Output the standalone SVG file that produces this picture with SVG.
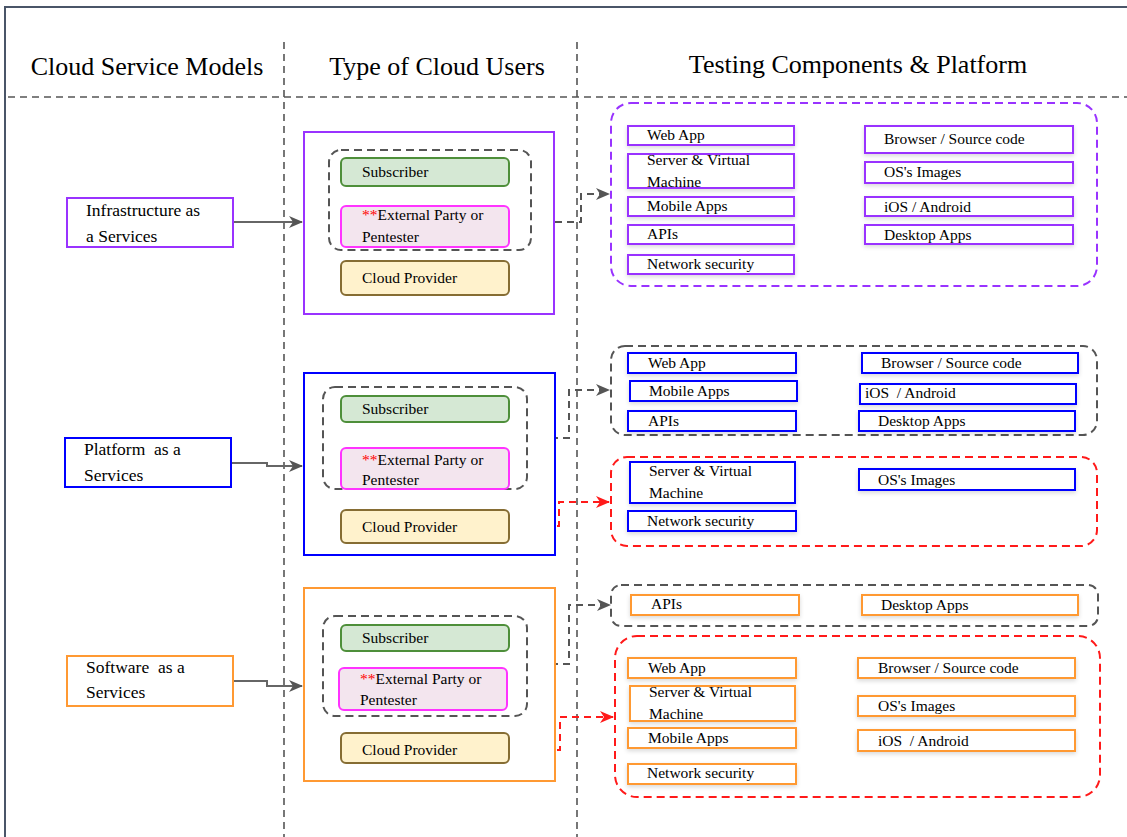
<svg xmlns="http://www.w3.org/2000/svg" width="1127" height="837" viewBox="0 0 1127 837" font-family="'Liberation Serif', 'Times New Roman', serif">
<style>
text{font-family:"Liberation Serif","Times New Roman",serif;fill:#000;white-space:pre}
.hd{font-size:26px;text-anchor:middle}
.lt{font-size:17.5px}
.t{font-size:15.5px}
.div{stroke:#555;stroke-width:1.6;stroke-dasharray:7 5;fill:none}
.item{fill:#fff;stroke-width:2;filter:url(#sh)}
.pu{stroke:#9933ff}
.bl{stroke:#0000ff}
.or{stroke:#ff9933}
.grp{fill:none;stroke-width:2;stroke-dasharray:8 5}
.gray{stroke:#555}
.red{stroke:#ff1a1a}
.purd{stroke:#9933ff}
.sub{fill:#d5e8d4;stroke:#4e8f3a;stroke-width:2}
.ext{fill:#f3e5ee;stroke:#ff33ff;stroke-width:2}
.cp{fill:#fff2cc;stroke:#866d33;stroke-width:2}
.cont{fill:#fff;stroke-width:2}
.sol{fill:none;stroke:#666;stroke-width:2}
.dg{fill:none;stroke:#555;stroke-width:2;stroke-dasharray:7 5}
.dr{fill:none;stroke:#ff1a1a;stroke-width:2;stroke-dasharray:7 5}
.redt{fill:#ff0000}
</style>
<defs>
<filter id="sh" x="-10%" y="-30%" width="120%" height="170%">
<feDropShadow dx="0" dy="2" stdDeviation="2" flood-color="#000" flood-opacity="0.15"/>
</filter>
<marker id="ag" markerUnits="userSpaceOnUse" markerWidth="14" markerHeight="12" refX="13" refY="6" orient="auto">
<path d="M0,0 L14,6 L0,12 L4,6 Z" fill="#555"/>
</marker>
<marker id="ar" markerUnits="userSpaceOnUse" markerWidth="14" markerHeight="12" refX="13" refY="6" orient="auto">
<path d="M0,0 L14,6 L0,12 L4,6 Z" fill="#ff1a1a"/>
</marker>
</defs>
<rect width="1127" height="837" fill="#fff"/>
<g id="frame">
<path d="M5,837 L5,7 L1127,7" fill="none" stroke="#4a5568" stroke-width="2"/>
<line x1="8" y1="97" x2="1127" y2="97" class="div"/>
<line x1="284" y1="42" x2="284" y2="837" class="div"/>
<line x1="577" y1="42" x2="577" y2="837" class="div"/>
</g>
<g id="headers">
<text class="hd" x="147" y="75">Cloud Service Models</text>
<text class="hd" x="437" y="75">Type of Cloud Users</text>
<text class="hd" x="858" y="73">Testing Components &amp; Platform</text>
</g>

<g id="connectors">
<path class="sol" d="M233,222 L302,222" marker-end="url(#ag)"/>
<path class="sol" d="M231,463 L267,463 L267,466 L302,466" marker-end="url(#ag)"/>
<path class="sol" d="M233,681 L267,681 L267,686 L302,686" marker-end="url(#ag)"/>
<path class="dg" d="M555,222 L581,222 L581,194 L609,194" marker-end="url(#ag)"/>
<path class="dg" d="M527,438 L569,438 L569,390 L609,390" marker-end="url(#ag)"/>
<path class="dr" d="M509,526 L559,526 L559,502 L609,502" marker-end="url(#ar)"/>
<path class="dg" d="M527,664 L569,664 L569,605 L610,605" marker-end="url(#ag)"/>
<path class="dr" d="M509,750 L560,750 L560,717 L613,717" marker-end="url(#ar)"/>
</g>

<g id="iaas">
<rect x="67" y="198" width="166" height="49" class="cont pu"/>
<text class="lt" x="86" y="216">Infrastructure as</text>
<text class="lt" x="86" y="242">a Services</text>
</g>
<g id="paas">
<rect x="65" y="438" width="166" height="49" class="cont bl"/>
<text class="lt" x="84" y="455">Platform  as a</text>
<text class="lt" x="84" y="481">Services</text>
</g>
<g id="saas">
<rect x="67" y="656" width="166" height="50" class="cont or"/>
<text class="lt" x="86" y="673">Software  as a</text>
<text class="lt" x="86" y="698">Services</text>
</g>

<g id="iaas-users">
<rect x="304" y="132" width="250" height="182" class="cont pu"/>
<rect x="329" y="150" width="202" height="100" rx="12" class="grp gray"/>
<rect x="341" y="158" width="168" height="28" rx="5" class="sub"/>
<text class="t" x="362" y="177">Subscriber</text>
<rect x="341" y="206" width="168" height="41" rx="5" class="ext"/>
<text class="t" x="362" y="220"><tspan class="redt">**</tspan>External Party or</text>
<text class="t" x="362" y="242">Pentester</text>
<rect x="341" y="261" width="168" height="34" rx="5" class="cp"/>
<text class="t" x="362" y="283">Cloud Provider</text>
</g>
<g id="paas-users">
<rect x="304" y="373" width="251" height="182" class="cont bl"/>
<rect x="323" y="387" width="204" height="102" rx="12" class="grp gray"/>
<rect x="341" y="396" width="168" height="26" rx="5" class="sub"/>
<text class="t" x="362" y="414">Subscriber</text>
<rect x="341" y="448" width="168" height="41" rx="5" class="ext"/>
<text class="t" x="362" y="465"><tspan class="redt">**</tspan>External Party or</text>
<text class="t" x="362" y="485">Pentester</text>
<rect x="341" y="510" width="168" height="33" rx="5" class="cp"/>
<text class="t" x="362" y="532">Cloud Provider</text>
</g>
<g id="saas-users">
<rect x="304" y="588" width="251" height="193" class="cont or"/>
<rect x="323" y="616" width="204" height="100" rx="12" class="grp gray"/>
<rect x="341" y="625" width="168" height="26" rx="5" class="sub"/>
<text class="t" x="362" y="643">Subscriber</text>
<rect x="339" y="668" width="168" height="42" rx="5" class="ext"/>
<text class="t" x="360" y="684"><tspan class="redt">**</tspan>External Party or</text>
<text class="t" x="360" y="705">Pentester</text>
<rect x="341" y="733" width="168" height="30" rx="5" class="cp"/>
<text class="t" x="362" y="755">Cloud Provider</text>
</g>

<g id="iaas-components">
<rect x="611" y="103" width="486" height="183" rx="20" class="grp purd"/>
<rect x="628" y="126" width="166" height="19" class="item pu"/>
<text class="t" x="647" y="140">Web App</text>
<rect x="628" y="154" width="166" height="34" class="item pu"/>
<text class="t" x="647" y="165">Server &amp; Virtual</text>
<text class="t" x="647" y="187">Machine</text>
<rect x="628" y="197" width="166" height="19" class="item pu"/>
<text class="t" x="647" y="211">Mobile Apps</text>
<rect x="628" y="225" width="166" height="19" class="item pu"/>
<text class="t" x="647" y="239">APIs</text>
<rect x="628" y="255" width="166" height="19" class="item pu"/>
<text class="t" x="647" y="269">Network security</text>
<rect x="865" y="126" width="208" height="27" class="item pu"/>
<text class="t" x="884" y="144">Browser / Source code</text>
<rect x="865" y="162" width="208" height="21" class="item pu"/>
<text class="t" x="884" y="177">OS's Images</text>
<rect x="865" y="197" width="208" height="19" class="item pu"/>
<text class="t" x="884" y="212">iOS / Android</text>
<rect x="865" y="225" width="208" height="19" class="item pu"/>
<text class="t" x="884" y="240">Desktop Apps</text>
</g>

<g id="paas-subscriber-components">
<rect x="611" y="346" width="486" height="89" rx="14" class="grp gray"/>
<rect x="628" y="353" width="168" height="20" class="item bl"/>
<text class="t" x="648" y="368">Web App</text>
<rect x="630" y="381" width="167" height="20" class="item bl"/>
<text class="t" x="649" y="396">Mobile Apps</text>
<rect x="628" y="411" width="168" height="20" class="item bl"/>
<text class="t" x="648" y="426">APIs</text>
<rect x="862" y="353" width="216" height="20" class="item bl"/>
<text class="t" x="881" y="368">Browser / Source code</text>
<rect x="860" y="384" width="216" height="20" class="item bl"/>
<text class="t" x="865" y="398">iOS  / Android</text>
<rect x="859" y="411" width="216" height="20" class="item bl"/>
<text class="t" x="878" y="426">Desktop Apps</text>
</g>

<g id="paas-provider-components">
<rect x="611" y="457" width="486" height="89" rx="16" class="grp red"/>
<rect x="630" y="462" width="165" height="41" class="item bl"/>
<text class="t" x="649" y="476">Server &amp; Virtual</text>
<text class="t" x="649" y="498">Machine</text>
<rect x="628" y="511" width="168" height="20" class="item bl"/>
<text class="t" x="647" y="526">Network security</text>
<rect x="859" y="469" width="216" height="21" class="item bl"/>
<text class="t" x="878" y="485">OS's Images</text>
</g>

<g id="saas-subscriber-components">
<rect x="611" y="585" width="487" height="41" rx="10" class="grp gray"/>
<rect x="631" y="595" width="168" height="20" class="item or"/>
<text class="t" x="651" y="609">APIs</text>
<rect x="862" y="595" width="216" height="20" class="item or"/>
<text class="t" x="881" y="610">Desktop Apps</text>
</g>

<g id="saas-provider-components">
<rect x="615" y="636" width="485" height="161" rx="22" class="grp red"/>
<rect x="628" y="658" width="168" height="20" class="item or"/>
<text class="t" x="648" y="673">Web App</text>
<rect x="630" y="686" width="165" height="35" class="item or"/>
<text class="t" x="649" y="697">Server &amp; Virtual</text>
<text class="t" x="649" y="719">Machine</text>
<rect x="628" y="728" width="168" height="20" class="item or"/>
<text class="t" x="648" y="743">Mobile Apps</text>
<rect x="628" y="764" width="168" height="20" class="item or"/>
<text class="t" x="647" y="778">Network security</text>
<rect x="858" y="658" width="217" height="20" class="item or"/>
<text class="t" x="878" y="673">Browser / Source code</text>
<rect x="858" y="696" width="217" height="20" class="item or"/>
<text class="t" x="878" y="711">OS's Images</text>
<rect x="858" y="730" width="217" height="21" class="item or"/>
<text class="t" x="878" y="746">iOS  / Android</text>
</g>
</svg>
